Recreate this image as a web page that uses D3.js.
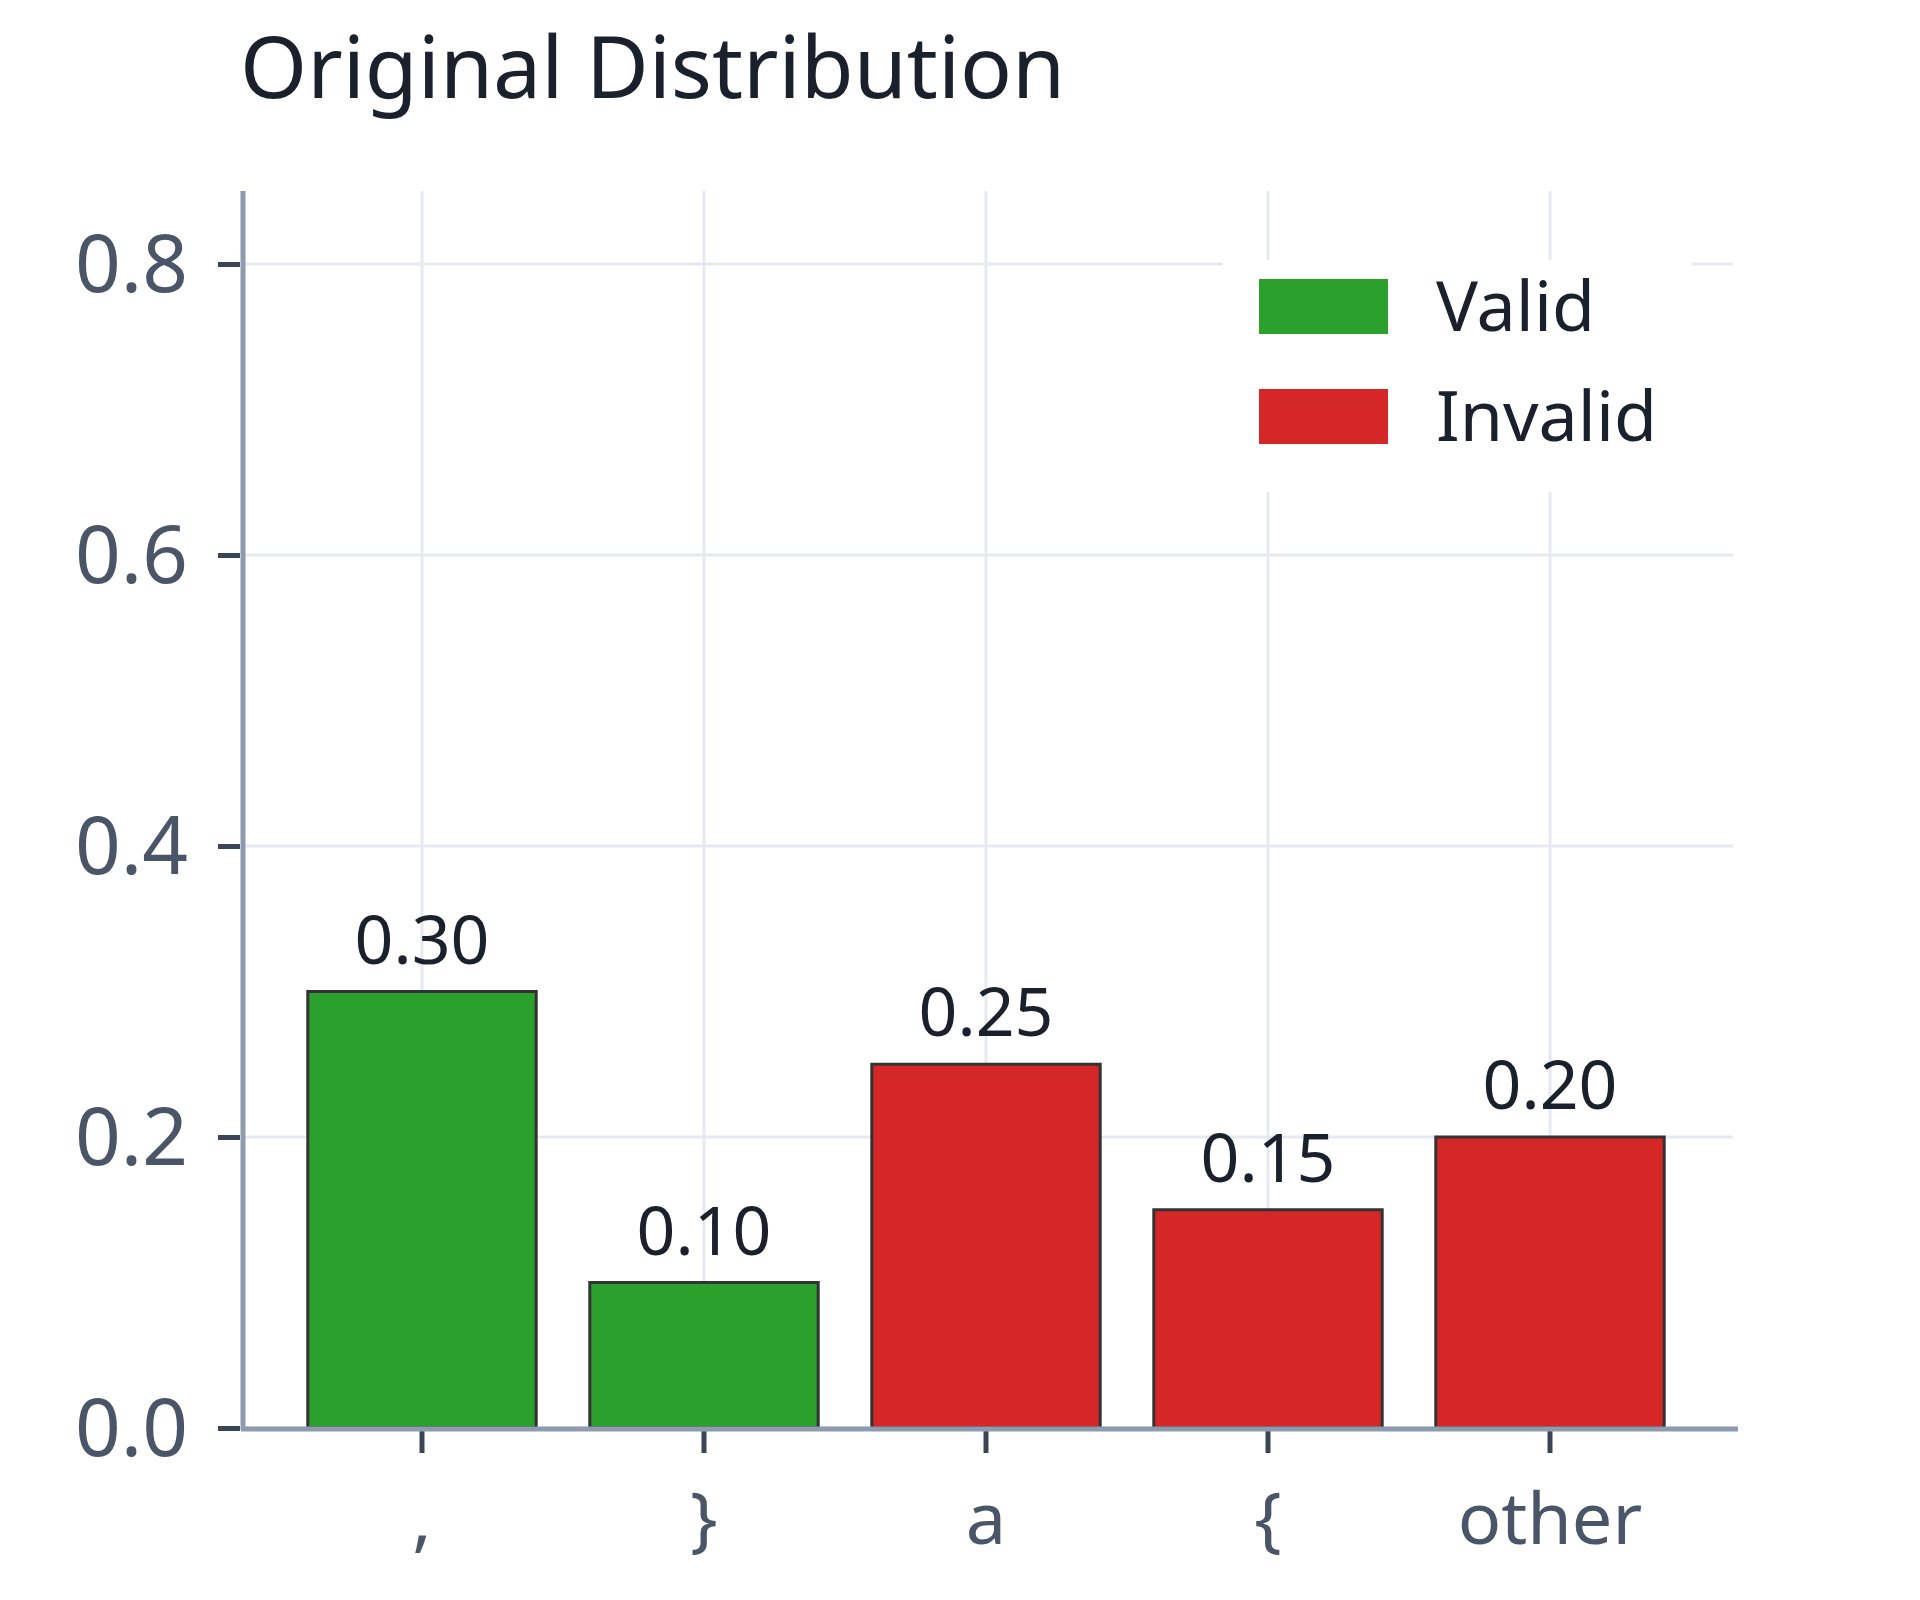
<!DOCTYPE html>
<html><head><meta charset="utf-8">
<script src="https://cdn.jsdelivr.net/npm/d3@7"></script>
<style>body{margin:0;background:#fff}</style></head>
<body><svg id="c" width="1920" height="1600"></svg>
<script>
const categories = [",", "}", "a", "{", "other"];
const values = [0.30, 0.10, 0.25, 0.15, 0.20];
const status = ["Valid", "Valid", "Invalid", "Invalid", "Invalid"];
const yTicks = [0.0, 0.2, 0.4, 0.6, 0.8];
const legendItems = ["Valid", "Invalid"];
const colors = {Valid: "#2ca02c", Invalid: "#d62728"};
const font = "'Noto Sans', 'Open Sans', sans-serif";

const svg = d3.select("#c");
const x = d3.scaleBand().domain(categories).range([281, 1691]).paddingInner(0.19).paddingOuter(0.095);
const y = d3.scaleLinear().domain([0, 0.8]).range([1428, 264]);
const yTop = 191, xL = 243, xR = 1738;

// grid
svg.append("g").selectAll("line").data(yTicks).join("line")
  .attr("x1", xL).attr("x2", xR - 5).attr("y1", d => y(d)).attr("y2", d => y(d))
  .attr("stroke", "#e6e9ef").attr("stroke-width", 3);
svg.append("g").selectAll("line").data(categories).join("line")
  .attr("x1", d => x(d) + x.bandwidth()/2).attr("x2", d => x(d) + x.bandwidth()/2)
  .attr("y1", yTop).attr("y2", y(0))
  .attr("stroke", "#e6e9ef").attr("stroke-width", 3);

// title
svg.append("text").attr("x", 240).attr("y", 98).text("Original Distribution")
  .attr("font-family", font).attr("font-size", 86).attr("fill", "#1a202c");

// legend
const lg = svg.append("g");
lg.append("rect").attr("x", 1222).attr("y", 260).attr("width", 470).attr("height", 232).attr("fill", "#fff");
legendItems.forEach((k, i) => {
  lg.append("rect").attr("x", 1265 - 6).attr("y", 279 + i*110).attr("width", 129).attr("height", 55).attr("fill", colors[k]);
  lg.append("text").attr("x", 1436).attr("y", 331 + i*110).text(k)
    .attr("font-family", font).attr("font-size", 70).attr("fill", "#1a202c");
});

// bars
svg.append("g").selectAll("rect").data(categories).join("rect")
  .attr("x", d => x(d)).attr("width", x.bandwidth())
  .attr("y", (d, i) => y(values[i])).attr("height", (d, i) => y(0) - y(values[i]))
  .attr("fill", (d, i) => colors[status[i]]).attr("stroke", "#333").attr("stroke-width", 3);
svg.append("g").selectAll("text").data(categories).join("text")
  .attr("x", d => x(d) + x.bandwidth()/2).attr("y", (d, i) => y(values[i]) - 28)
  .attr("text-anchor", "middle").text((d, i) => values[i].toFixed(2))
  .attr("font-family", font).attr("font-size", 68).attr("fill", "#1a202c");

// axes
const ya = svg.append("g").attr("transform", `translate(${xL - 3},0)`)
  .call(d3.axisLeft(y).tickValues(yTicks).tickFormat(d3.format(".1f")).tickSize(22).tickPadding(30));
ya.select(".domain").remove();
ya.selectAll(".tick line").attr("stroke", "#3a4556").attr("stroke-width", 5);
ya.selectAll("text").attr("font-family", font).attr("font-size", 80).attr("fill", "#4a5568").attr("dy", "0.34em");
svg.append("line").attr("x1", xL).attr("x2", xL).attr("y1", yTop).attr("y2", y(0) + 2).attr("stroke", "#8d9bb0").attr("stroke-width", 5);

const xa = svg.append("g").attr("transform", `translate(0,${y(0) + 3})`)
  .call(d3.axisBottom(x).tickSize(22).tickPadding(40));
xa.select(".domain").remove();
xa.selectAll(".tick line").attr("stroke", "#3a4556").attr("stroke-width", 5);
xa.selectAll("text").attr("font-family", font).attr("font-size", 72).attr("fill", "#4a5568");
svg.append("line").attr("x1", xL - 2).attr("x2", xR).attr("y1", y(0) + 1).attr("y2", y(0) + 1).attr("stroke", "#8d9bb0").attr("stroke-width", 5);
</script></body></html>
